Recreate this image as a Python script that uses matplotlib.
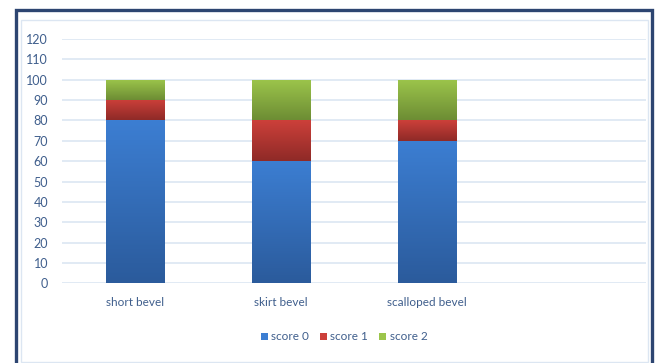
import numpy as np
import matplotlib.pyplot as plt
from matplotlib.patches import Rectangle
from matplotlib.colors import LinearSegmentedColormap

plt.rcParams['font.family'] = ['Lato', 'DejaVu Sans']

# data
categories = ['short bevel', 'skirt bevel', 'scalloped bevel', '']
score0 = [80, 60, 70, 0]
score1 = [10, 20, 10, 0]
score2 = [10, 20, 20, 0]
series_names = ['score 0', 'score 1', 'score 2']
yticks = list(range(0, 130, 10))

# top / bottom colours for the gradient fill of each series
grad = [('#3C7ED2', '#2B5B9C'), ('#CC403A', '#8F2A27'), ('#9CC54B', '#6D8D34')]
text_col = '#3F5E8C'

fig = plt.figure(figsize=(6.57, 3.63), dpi=100)
ax = fig.add_axes([62/657, 79.7/363, 584/657, 244.3/363])

x = np.arange(len(categories))
bottoms = np.zeros(len(categories))
handles = []
for vals, name, (c_top, c_bot) in zip([score0, score1, score2], series_names, grad):
    bars = ax.bar(x, vals, width=0.4, bottom=bottoms, color=c_top, label=name,
                  zorder=3, linewidth=0)
    handles.append(bars)
    cmap = LinearSegmentedColormap.from_list(name, [c_bot, c_top])
    g = np.linspace(0, 1, 64).reshape(-1, 1)
    for p in bars.patches:
        if p.get_height() <= 0:
            continue
        x0, y0 = p.get_x(), p.get_y()
        im = ax.imshow(g, cmap=cmap, origin='lower', aspect='auto', zorder=3.5,
                       extent=[x0, x0 + p.get_width(), y0, y0 + p.get_height()])
        im.set_clip_path(p)
    bottoms += np.array(vals)

ax.set_xlim(-0.5, len(categories) - 0.5)
ax.set_ylim(0, 120)
ax.set_yticks(yticks)
ax.set_xticks(x)
ax.set_xticklabels(categories)
ax.tick_params(length=0, labelsize=8.5, labelcolor=text_col)
ax.tick_params(axis='x', pad=10)
ax.tick_params(axis='y', pad=10, labelsize=9)
ax.grid(axis='y', color='#DCE6F2', linewidth=1.2, zorder=0)
for s in ax.spines.values():
    s.set_visible(False)

leg = fig.legend(handles=handles, labels=series_names, loc='center',
                 bbox_to_anchor=(344/657, 26/363), ncol=3, frameon=False,
                 fontsize=8.5, handlelength=0.6, handleheight=0.6,
                 handletextpad=0.3, columnspacing=0.9)
for t in leg.get_texts():
    t.set_color(text_col)

# chart frames
fig.patches.append(Rectangle((16/657, -0.05), 636/657, (363 - 10)/363 + 0.05,
                             transform=fig.transFigure, fill=False,
                             edgecolor='#2D4571', linewidth=2.4))
fig.patches.append(Rectangle((21/657, 1/363), 627/657, (363 - 21)/363,
                             transform=fig.transFigure, fill=False,
                             edgecolor='#DCE6F2', linewidth=1))

fig.savefig('out.png', dpi=100)
